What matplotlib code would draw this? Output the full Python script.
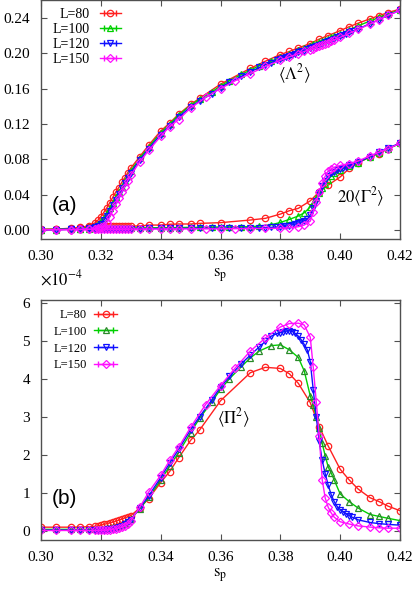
import numpy as np
import matplotlib
matplotlib.use("Agg")
import matplotlib.pyplot as plt
from matplotlib.lines import Line2D
from matplotlib.legend_handler import HandlerLine2D, HandlerTuple

plt.rcParams['font.family'] = ['Liberation Serif', 'DejaVu Serif']
plt.rcParams['mathtext.fontset'] = 'stix'

# s_p grids (common low-s part + per-size upper part)
s_low = [0.300, 0.305, 0.310, 0.313, 0.316, 0.318, 0.319, 0.320, 0.321, 0.322, 0.323, 0.324,
         0.325, 0.326, 0.327, 0.328, 0.329, 0.330, 0.333, 0.336, 0.340, 0.343, 0.346, 0.350]
s80_hi = [0.353, 0.360, 0.370, 0.375, 0.380, 0.383, 0.386, 0.390, 0.393, 0.396, 0.400,
          0.403, 0.406, 0.410, 0.413, 0.416, 0.420]
s100_hi = [0.353, 0.357, 0.360, 0.363, 0.367, 0.370, 0.373, 0.377, 0.380, 0.383, 0.386, 0.388,
           0.390, 0.391, 0.392, 0.393, 0.394, 0.395, 0.396, 0.397, 0.398, 0.400, 0.403, 0.406,
           0.410, 0.413, 0.416, 0.420]
s120_hi = [0.353, 0.357, 0.360, 0.363, 0.367, 0.370, 0.373, 0.375, 0.377, 0.379, 0.380, 0.381,
           0.382, 0.383, 0.384, 0.385, 0.386, 0.387, 0.388, 0.389, 0.390, 0.391, 0.392, 0.393,
           0.394, 0.395, 0.396, 0.397, 0.398, 0.399, 0.400, 0.401, 0.402, 0.403, 0.404, 0.406,
           0.410, 0.413, 0.416, 0.420]
s150_hi = [0.355, 0.360, 0.365, 0.370, 0.375, 0.380, 0.383, 0.386, 0.388, 0.390, 0.391, 0.392,
           0.393, 0.394, 0.395, 0.396, 0.397, 0.398, 0.400, 0.403, 0.406, 0.410, 0.413, 0.416,
           0.420]

# <Lambda^2>
lam80 = [0.0005, 0.0008, 0.0015, 0.0025, 0.005, 0.008, 0.011, 0.015, 0.020, 0.025, 0.031, 0.037,
         0.043, 0.048, 0.054, 0.059, 0.065, 0.070, 0.083, 0.096, 0.112, 0.121, 0.131, 0.142,
         0.149, 0.165, 0.183, 0.191, 0.1985, 0.202, 0.206, 0.211, 0.216, 0.220, 0.2256,
         0.230, 0.234, 0.239, 0.2425, 0.246, 0.250]
lam100 = [0.0003, 0.0005, 0.001, 0.0015, 0.003, 0.005, 0.007, 0.010, 0.014, 0.019, 0.025, 0.031,
          0.037, 0.043, 0.049, 0.055, 0.061, 0.067, 0.081, 0.094, 0.110, 0.120, 0.130, 0.141,
          0.148, 0.156, 0.163, 0.169, 0.176, 0.181, 0.186, 0.191, 0.1955, 0.1995, 0.2035, 0.206,
          0.2085, 0.210, 0.211, 0.2125, 0.214, 0.215, 0.2165, 0.218, 0.219, 0.222, 0.2265,
          0.231, 0.2365, 0.2405, 0.2445, 0.249]
lam120 = [0.0002, 0.0004, 0.0008, 0.001, 0.002, 0.003, 0.005, 0.007, 0.011, 0.016, 0.022, 0.028,
          0.034, 0.041, 0.047, 0.053, 0.059, 0.065, 0.079, 0.092, 0.108, 0.118, 0.128, 0.139,
          0.146, 0.154, 0.161, 0.167, 0.174, 0.179, 0.184, 0.187, 0.1895, 0.192, 0.1935, 0.1948,
          0.196, 0.197, 0.1985, 0.1995, 0.201, 0.202, 0.203, 0.2045, 0.2055, 0.207, 0.208,
          0.2095, 0.211, 0.2125, 0.214, 0.215, 0.2165, 0.218, 0.219, 0.2205, 0.222, 0.2235,
          0.225, 0.2275, 0.2335, 0.238, 0.243, 0.2485]
lam150 = [0.0002, 0.0003, 0.0005, 0.0007, 0.0009, 0.001, 0.002, 0.003, 0.005, 0.008, 0.015, 0.022,
          0.029, 0.036, 0.043, 0.049, 0.056, 0.062, 0.077, 0.090, 0.106, 0.117, 0.125, 0.138,
          0.150, 0.160, 0.169, 0.177, 0.185, 0.192, 0.196, 0.1995, 0.202, 0.204, 0.205, 0.2065,
          0.208, 0.209, 0.2105, 0.212, 0.2135, 0.215, 0.218, 0.2225, 0.227, 0.233, 0.238,
          0.243, 0.2485]

# 20<Gamma^2>
gam80 = [0.0008, 0.001, 0.002, 0.003, 0.0035, 0.0038, 0.004, 0.004, 0.0041, 0.0041, 0.0042, 0.0042,
         0.0043, 0.0043, 0.0044, 0.0044, 0.0045, 0.0045, 0.0045, 0.0056, 0.0056, 0.0065, 0.0068,
         0.0068, 0.0075, 0.0083, 0.0113, 0.0132, 0.018, 0.0218, 0.0245, 0.033, 0.0432, 0.0508,
         0.060, 0.0696, 0.076, 0.0827, 0.0865, 0.092, 0.098]
gam100 = [0.0005, 0.0006, 0.001, 0.0012, 0.0015, 0.0018, 0.002, 0.002, 0.002, 0.002, 0.0021,
          0.0021, 0.0022, 0.0022, 0.0022, 0.0023, 0.0023, 0.0023, 0.0024, 0.0025, 0.0026, 0.0027,
          0.0028, 0.003, 0.003, 0.0032, 0.0034, 0.0035, 0.0036, 0.0037, 0.0045, 0.006, 0.0085,
          0.012, 0.0158, 0.0195, 0.026, 0.031, 0.036, 0.042, 0.047, 0.052, 0.057, 0.061, 0.064,
          0.068, 0.072, 0.076, 0.083, 0.087, 0.092, 0.098]
gam120 = [0.0004, 0.0005, 0.0008, 0.001, 0.001, 0.0012, 0.0012, 0.0013, 0.0013, 0.0013, 0.0014,
          0.0014, 0.0014, 0.0015, 0.0015, 0.0015, 0.0015, 0.0016, 0.0016, 0.0017, 0.0017, 0.0018,
          0.0018, 0.0019, 0.0019, 0.002, 0.002, 0.0021, 0.0022, 0.0023, 0.0025, 0.0028, 0.003,
          0.0034, 0.0037, 0.0041, 0.0045, 0.005, 0.0058, 0.0066, 0.0075, 0.0088, 0.0104, 0.012,
          0.017, 0.0245, 0.033, 0.042, 0.050, 0.056, 0.061, 0.064, 0.066, 0.0675, 0.069, 0.070,
          0.0715, 0.073, 0.074, 0.077, 0.083, 0.088, 0.093, 0.098]
gam150 = [0.0003, 0.0004, 0.0005, 0.0006, 0.0007, 0.0008, 0.0008, 0.0008, 0.0008, 0.0009, 0.0009,
          0.0009, 0.0009, 0.001, 0.001, 0.001, 0.001, 0.001, 0.001, 0.0011, 0.0011, 0.0012,
          0.0012, 0.0013, 0.0013, 0.0014, 0.0015, 0.0016, 0.0018, 0.002, 0.0025, 0.0037, 0.0056,
          0.010, 0.020, 0.032, 0.043, 0.053, 0.061, 0.067, 0.069, 0.071, 0.073, 0.075, 0.078,
          0.084, 0.088, 0.092, 0.098]

# <Pi^2> in units of 1e-4
pi80 = [0.097, 0.097, 0.097, 0.10, 0.11, 0.12, 0.13, 0.15, 0.17, 0.19, 0.21, 0.23, 0.25, 0.28,
        0.31, 0.34, 0.37, 0.40, 0.60, 0.85, 1.27, 1.56, 1.92, 2.38,
        2.65, 3.42, 4.16, 4.30, 4.27, 4.13, 3.88, 3.37, 2.74, 2.23, 1.62, 1.34, 1.10, 0.87,
        0.77, 0.65, 0.53]
pi100 = [0.04, 0.04, 0.04, 0.04, 0.04, 0.045, 0.05, 0.055, 0.06, 0.07, 0.08, 0.09, 0.11, 0.13,
         0.16, 0.20, 0.25, 0.31, 0.58, 0.88, 1.33, 1.70, 2.06, 2.58,
         2.96, 3.38, 3.72, 4.00, 4.32, 4.55, 4.73, 4.87, 4.89, 4.76, 4.56, 4.20, 3.55, 3.30,
         3.00, 2.70, 2.30, 1.97, 1.68, 1.52, 1.34, 0.97, 0.77, 0.60, 0.43, 0.38, 0.33, 0.27]
pi120 = [0.02, 0.02, 0.02, 0.02, 0.02, 0.02, 0.025, 0.03, 0.035, 0.04, 0.05, 0.06, 0.08, 0.10,
         0.13, 0.17, 0.22, 0.29, 0.60, 0.92, 1.40, 1.78, 2.14, 2.66,
         3.00, 3.43, 3.78, 4.06, 4.40, 4.62, 4.84, 4.98, 5.12, 5.19, 5.21, 5.23, 5.25, 5.26,
         5.24, 5.19, 5.12, 5.02, 4.90, 4.76, 4.45, 3.70, 3.00, 2.35, 1.85, 1.50, 1.20, 0.95,
         0.77, 0.64, 0.56, 0.50, 0.45, 0.40, 0.36, 0.29, 0.22, 0.19, 0.17, 0.15]
pi150 = [0.01, 0.01, 0.01, 0.01, 0.01, 0.01, 0.012, 0.015, 0.02, 0.025, 0.03, 0.04, 0.05, 0.07,
         0.09, 0.13, 0.19, 0.27, 0.62, 1.02, 1.46, 1.85, 2.20, 2.72,
         3.32, 3.82, 4.29, 4.73, 5.07, 5.36, 5.45, 5.46, 5.41, 5.09, 4.30, 3.40, 2.50, 1.34,
         0.86, 0.62, 0.47, 0.36, 0.24, 0.18, 0.13, 0.10, 0.08, 0.07, 0.07]

labels = ['L=80', 'L=100', 'L=120', 'L=150']
s_all = [s_low + s80_hi, s_low + s100_hi, s_low + s120_hi, s_low + s150_hi]
lam_all = [lam80, lam100, lam120, lam150]
gam_all = [gam80, gam100, gam120, gam150]
pi_all = [pi80, pi100, pi120, pi150]

markers = ['o', '^', 'v', 'D']
msizes = [4.6, 4.4, 4.4, 3.6]
line_top = ['#ff2020', '#00d000', '#1010ff', '#ff10ff']
line_bot = ['#ff2020', '#00d000', '#1010ff', '#ff10ff']
mark_bot = ['#ff2020', '#2a8a2a', '#1010ff', '#ff10ff']
frame = '#505050'

fig = plt.figure(figsize=(4.15, 5.89), dpi=100)
ax1 = fig.add_axes([0.0988, 0.5942, 0.8651, 0.4050])
ax2 = fig.add_axes([0.0988, 0.0832, 0.8651, 0.4075])


def style(ax):
    for sp in ax.spines.values():
        sp.set_color(frame)
        sp.set_linewidth(1.0)
    ax.tick_params(direction='in', top=True, right=True, length=4, width=0.8,
                   color=frame, labelsize=11, pad=8)
    ax.set_xlim(0.30, 0.42)
    ax.set_xticks(np.arange(0.30, 0.4201, 0.02))
    ax.set_xticklabels(['%.2f' % t for t in np.arange(0.30, 0.4201, 0.02)])
    ax.set_xlabel(r'$\mathrm{s_p}$', fontsize=12, labelpad=2)


def legend(ax, colors, mcolors, fs, hl, htp, lsp, anchor):
    handles = []
    hmap = {}
    for i in range(4):
        caps = Line2D([], [], color=colors[i], lw=1.0, marker='|', ms=5, mew=1.0)
        mk = Line2D([], [], color=colors[i], lw=1.0, marker=markers[i], ms=msizes[i],
                    mfc='none', mec=mcolors[i], mew=0.9)
        hmap[caps] = HandlerLine2D(numpoints=2)
        hmap[mk] = HandlerLine2D(numpoints=1)
        handles.append((caps, mk))
    hmap[tuple] = HandlerTuple(ndivide=1, pad=0)
    ax.legend(handles, labels, handler_map=hmap, loc='upper left', bbox_to_anchor=anchor,
              frameon=False, markerfirst=False, fontsize=fs, handlelength=hl,
              handletextpad=htp, labelspacing=lsp, borderpad=0, borderaxespad=0)


# top panel
for i in range(4):
    for ys in (lam_all[i], gam_all[i]):
        ax1.plot(s_all[i], ys, color=line_top[i], lw=1.0, marker=markers[i], ms=msizes[i],
                 mfc='none', mec=line_top[i], mew=0.9)
style(ax1)
ax1.set_ylim(-0.0102, 0.2597)
ax1.set_yticks(np.arange(0, 0.2401, 0.04))
ax1.set_yticklabels(['%.2f' % t for t in np.arange(0, 0.2401, 0.04)])
ax1.text(0.3845, 0.176, r'$\langle\Lambda^2\rangle$', fontsize=12, ha='center', va='center')
ax1.text(0.407, 0.037, r'$20\langle\Gamma^2\rangle$', fontsize=12, ha='center', va='center')
ax1.text(0.308, 0.028, '(a)', family='Liberation Sans', fontsize=15, ha='center', va='center')
legend(ax1, line_top, line_top, 10, 1.5, 0.7, 0.15, (0.033, 0.968))

# bottom panel
for i in range(4):
    ax2.plot(s_all[i], pi_all[i], color=line_bot[i], lw=1.0, marker=markers[i], ms=msizes[i],
             mfc='none', mec=mark_bot[i], mew=0.9)
style(ax2)
ax2.set_ylim(-0.24, 6.07)
ax2.set_yticks(range(0, 7))
ax2.text(0.3644, 2.97, r'$\langle\Pi^2\rangle$', fontsize=12, ha='center', va='center')
ax2.text(0.308, 0.84, '(b)', family='Liberation Sans', fontsize=15, ha='center', va='center')
fig.text(0.096, 0.526, r'$\times10^{-4}$', fontsize=12, ha='left', va='center')
legend(ax2, line_bot, mark_bot, 9, 1.8, 0.6, 0.38, (0.035, 0.962))

fig.savefig('out.png', dpi=100)
